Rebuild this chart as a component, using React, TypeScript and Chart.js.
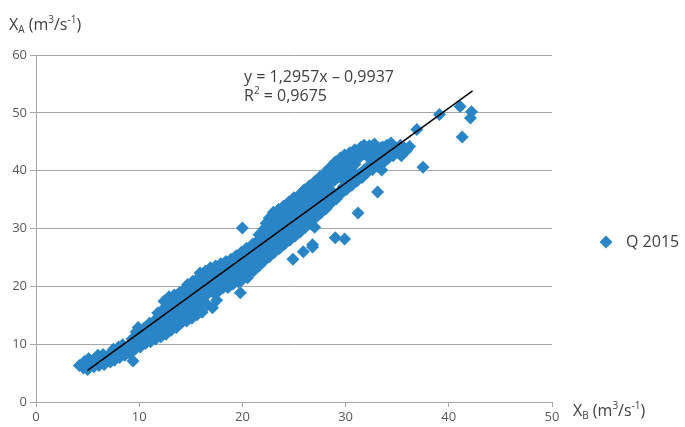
import React, { useEffect, useRef } from "react";
import { Chart, registerables } from "chart.js";

Chart.register(...registerables);

const seriesLabel = "Q 2015";
const xTicks = [0, 10, 20, 30, 40, 50];
const yTicks = [0, 10, 20, 30, 40, 50, 60];
const slope = 1.2957;
const intercept = -0.9937;
const equationText = "y = 1,2957x – 0,9937";
const rSquaredText = " = 0,9675";
const trendX = [5.0, 42.3];

const q2015: [number, number][] = [
  [4.2, 6.3], [4.6, 5.9], [4.7, 7.0],
  [5.0, 5.6], [5.2, 6.5], [5.1, 7.5],
  [5.6, 6.1], [5.5, 7.1], [5.8, 7.6],
  [6.1, 6.3], [6.3, 7.2], [6.0, 8.1],
  [6.6, 6.5], [6.8, 7.6], [6.5, 8.2],
  [7.2, 6.9], [7.0, 7.8], [7.3, 8.6],
  [7.6, 7.2], [7.8, 8.3], [7.5, 9.1],
  [8.1, 7.7], [8.3, 8.5], [8.0, 9.5],
  [8.6, 8.1], [8.8, 8.8], [8.4, 9.9],
  [9.1, 8.4], [9.0, 9.4], [9.2, 10.1],
  [9.4, 7.1], [9.6, 9.1], [9.3, 10.9], [9.7, 12.1],
  [10.1, 9.5], [10.0, 10.7], [10.2, 11.5], [9.9, 12.9],
  [10.6, 10.1], [10.4, 11.1], [10.7, 12.2], [10.5, 12.8],
  [11.1, 10.4], [10.9, 11.4], [11.2, 12.5], [11.0, 13.6],
  [11.6, 10.9], [11.4, 11.8], [11.7, 13.1], [11.5, 14.1], [11.8, 15.4],
  [12.1, 11.3], [11.9, 12.4], [12.2, 13.5], [12.0, 14.5], [12.3, 16.0], [12.4, 17.4],
  [12.6, 11.7], [12.4, 12.9], [12.7, 14.0], [12.5, 15.3], [12.8, 16.4], [12.9, 18.2],
  [13.1, 12.4], [12.9, 13.4], [13.2, 14.7], [13.0, 15.7], [13.3, 17.0], [13.4, 18.5],
  [13.6, 12.9], [13.4, 14.2], [13.7, 15.1], [13.5, 16.5], [13.8, 17.5], [13.9, 18.9],
  [14.1, 13.7], [13.9, 14.9], [14.2, 15.9], [14.0, 17.2], [14.3, 18.1], [14.4, 19.6],
  [14.6, 14.0], [14.4, 15.4], [14.7, 16.6], [14.5, 17.8], [14.8, 18.8], [14.7, 20.3],
  [15.1, 14.5], [14.9, 15.9], [15.2, 17.1], [15.0, 18.4], [15.3, 19.4], [15.2, 20.9],
  [15.6, 15.1], [15.4, 16.4], [15.7, 17.5], [15.5, 18.8], [15.8, 20.2], [15.6, 21.2], [15.9, 22.3],
  [16.1, 15.5], [15.9, 16.7], [16.2, 18.2], [16.0, 19.3], [16.3, 20.7], [16.1, 21.9], [16.4, 22.6],
  [16.6, 16.8], [16.4, 18.3], [16.7, 19.5], [16.5, 20.8], [16.8, 22.2], [16.9, 23.2],
  [17.1, 16.3], [17.5, 17.6], [17.2, 18.9], [17.0, 20.0], [17.3, 21.5], [17.1, 22.5], [17.4, 23.5],
  [17.7, 19.2], [17.5, 20.7], [17.8, 21.8], [17.6, 23.1], [17.9, 23.9],
  [18.1, 19.7], [18.3, 20.8], [18.0, 22.3], [18.2, 23.3], [18.4, 24.3],
  [18.6, 19.8], [18.8, 21.3], [18.5, 22.4], [18.7, 23.8], [18.9, 24.7],
  [19.1, 20.4], [19.3, 21.5], [19.0, 23.0], [19.2, 24.0], [19.4, 25.3],
  [19.8, 18.9], [19.6, 20.8], [19.8, 22.3], [19.5, 23.4], [19.7, 24.8], [19.9, 25.9],
  [19.9, 21.0], [20.1, 21.9], [20.3, 23.1], [20.0, 24.3], [20.2, 25.3], [20.4, 26.6], [20.0, 30.1],
  [20.5, 21.5], [20.7, 22.4], [20.9, 23.8], [20.6, 24.8], [20.8, 26.2], [21.0, 27.3],
  [21.1, 22.7], [21.3, 23.8], [21.0, 25.2], [21.2, 26.3], [21.4, 27.7], [21.6, 28.9],
  [21.6, 23.5], [21.8, 24.6], [21.5, 26.1], [21.7, 27.2], [21.9, 28.6], [22.1, 29.9],
  [22.1, 24.4], [22.3, 25.5], [22.0, 26.8], [22.2, 28.3], [22.4, 29.4], [22.3, 30.9], [22.6, 31.8],
  [22.6, 25.1], [22.8, 26.2], [22.5, 27.7], [22.7, 28.8], [22.9, 30.3], [22.8, 31.5], [23.0, 32.8],
  [23.1, 25.9], [23.3, 27.0], [23.0, 28.5], [23.2, 29.6], [23.4, 31.1], [23.3, 32.3], [23.5, 33.3],
  [23.6, 26.6], [23.8, 27.9], [23.5, 29.0], [23.7, 30.5], [23.9, 31.6], [23.8, 33.0], [24.0, 33.9],
  [24.1, 27.3], [24.3, 28.4], [24.0, 29.9], [24.2, 31.0], [24.4, 32.5], [24.3, 33.7], [24.5, 34.6],
  [24.6, 28.0], [24.8, 29.3], [24.5, 30.4], [24.7, 31.9], [24.9, 33.0], [24.8, 34.4], [25.0, 35.3],
  [24.9, 24.7], [25.1, 28.7], [25.3, 29.8], [25.0, 31.3], [25.2, 32.4], [25.4, 33.9], [25.3, 35.1], [25.5, 35.8],
  [25.6, 29.4], [25.8, 30.5], [25.5, 32.0], [25.7, 33.1], [25.9, 34.6], [25.8, 35.8], [26.0, 36.7],
  [25.9, 26.0], [26.1, 30.2], [26.3, 31.3], [26.0, 32.8], [26.2, 33.9], [26.4, 35.4], [26.3, 36.4], [26.5, 37.4],
  [26.8, 26.8], [26.8, 27.2], [26.6, 30.8], [26.8, 32.3], [26.5, 33.4], [26.7, 34.9], [26.9, 36.0], [26.8, 37.3], [27.0, 38.1],
  [27.0, 30.2], [27.1, 31.9], [27.3, 33.0], [27.0, 34.5], [27.2, 35.6], [27.4, 37.1], [27.3, 38.2], [27.5, 38.9],
  [27.6, 32.7], [27.8, 33.8], [27.5, 35.3], [27.7, 36.4], [27.9, 37.9], [27.8, 38.8], [28.0, 39.7],
  [28.1, 33.4], [28.3, 34.9], [28.0, 36.0], [28.2, 37.5], [28.4, 38.8], [28.3, 40.0], [28.5, 40.6],
  [28.6, 34.4], [28.8, 35.4], [28.5, 36.7], [28.9, 38.3], [28.7, 39.7], [28.9, 40.8], [29.0, 41.5],
  [29.0, 28.4], [29.9, 28.2], [29.1, 35.1], [29.3, 36.2], [29.2, 38.8], [29.4, 40.1], [29.3, 41.2], [29.5, 42.2],
  [29.6, 36.1], [29.8, 37.3], [29.7, 38.5], [29.9, 39.8], [29.8, 41.1], [30.0, 42.0], [29.9, 42.7],
  [30.1, 36.8], [30.3, 37.8], [30.2, 39.3], [30.4, 40.3], [30.3, 41.6], [30.5, 42.3], [30.4, 43.1],
  [30.6, 37.5], [30.8, 38.5], [30.7, 39.8], [30.9, 41.1], [30.8, 42.2], [31.0, 42.9], [30.9, 43.6],
  [31.1, 38.2], [31.3, 39.4], [31.2, 32.7], [31.4, 42.4], [31.2, 43.5], [31.5, 44.1],
  [31.6, 38.8], [31.8, 40.1], [31.7, 42.9], [31.9, 43.6], [31.8, 44.4],
  [32.1, 39.7], [32.3, 40.9], [32.2, 42.3], [32.4, 43.4], [32.3, 44.3],
  [32.6, 40.2], [32.8, 41.5], [32.7, 42.7], [32.9, 43.7], [32.8, 44.6],
  [33.1, 40.7], [33.1, 36.3], [33.3, 41.9], [33.2, 42.8], [33.4, 43.9],
  [33.5, 40.1], [33.7, 41.5], [33.8, 42.9], [33.6, 44.1],
  [34.1, 42.1], [34.3, 43.2], [34.0, 44.4],
  [34.4, 44.8], [34.6, 42.6], [34.8, 43.6],
  [35.1, 43.1], [35.3, 44.4], [35.4, 42.6],
  [35.7, 43.9], [35.9, 43.5], [36.2, 44.2],
  [36.9, 47.1], [37.5, 40.6], [39.1, 49.7], [41.1, 51.1], [42.2, 50.2], [42.1, 49.1], [41.3, 45.8],
];

const BLUE = "#2a85c7";
const GRID = "#a6a6a6";
const TEXT = "#404040";
const FONT = "'Open Sans', 'Noto Sans', sans-serif";

type Run = { t: string; size: number; dy: number };

function drawRuns(ctx: CanvasRenderingContext2D, x: number, baseline: number, runs: Run[]) {
  let cx = x;
  for (const r of runs) {
    ctx.font = `${r.size}px ${FONT}`;
    ctx.fillText(r.t, cx, baseline + r.dy);
    cx += ctx.measureText(r.t).width;
  }
}

function unitRuns(sub: string): Run[] {
  return [
    { t: "X", size: 16, dy: 0 },
    { t: sub, size: 10, dy: 3 },
    { t: " (m", size: 16, dy: 0 },
    { t: "3", size: 10, dy: -7 },
    { t: "/s", size: 16, dy: 0 },
    { t: "-1", size: 10, dy: -7 },
    { t: ")", size: 16, dy: 0 },
  ];
}

const overlay = {
  id: "overlay",
  afterDraw(chart: any) {
    const ctx: CanvasRenderingContext2D = chart.ctx;
    ctx.save();
    ctx.fillStyle = TEXT;
    ctx.textAlign = "left";
    ctx.textBaseline = "alphabetic";
    drawRuns(ctx, 9, 30, unitRuns("A"));
    drawRuns(ctx, 573, 416, unitRuns("B"));
    drawRuns(ctx, 244, 82, [{ t: equationText, size: 16, dy: 0 }]);
    drawRuns(ctx, 244, 101, [
      { t: "R", size: 16, dy: 0 },
      { t: "2", size: 10, dy: -7 },
      { t: rSquaredText, size: 16, dy: 0 },
    ]);
    const lx = 606, ly = 242, r = 6.5;
    ctx.fillStyle = BLUE;
    ctx.beginPath();
    ctx.moveTo(lx, ly - r);
    ctx.lineTo(lx + r, ly);
    ctx.lineTo(lx, ly + r);
    ctx.lineTo(lx - r, ly);
    ctx.closePath();
    ctx.fill();
    ctx.fillStyle = TEXT;
    ctx.font = `16px ${FONT}`;
    ctx.textBaseline = "middle";
    ctx.fillText(seriesLabel, 626, ly);
    ctx.restore();
  },
};

export default function App() {
  const ref = useRef<HTMLCanvasElement | null>(null);
  useEffect(() => {
    if (!ref.current) return;
    const chart = new Chart(ref.current, {
      type: "scatter",
      data: {
        datasets: [
          {
            type: "line",
            label: "trend",
            data: trendX.map((x) => ({ x, y: slope * x + intercept })),
            borderColor: "#000000",
            borderWidth: 1.5,
            pointRadius: 0,
            fill: false,
            order: 0,
          } as any,
          {
            type: "scatter",
            label: seriesLabel,
            data: q2015.map(([x, y]) => ({ x, y })),
            backgroundColor: BLUE,
            borderWidth: 0,
            pointStyle: "rectRot",
            pointRadius: 6.5,
            pointHoverRadius: 6.5,
            order: 1,
          } as any,
        ],
      },
      options: {
        responsive: false,
        animation: false,
        devicePixelRatio: 1,
        layout: { padding: { top: 55, right: 133, left: 0, bottom: 0 } },
        plugins: { legend: { display: false }, tooltip: { enabled: false } },
        scales: {
          x: {
            type: "linear",
            min: 0,
            max: 50,
            afterFit: (s: any) => { s.height = 25; },
            afterBuildTicks: (s: any) => { s.ticks = xTicks.map((v) => ({ value: v })); },
            ticks: { font: { family: FONT, size: 13 }, color: "#595959", padding: 2 },
            grid: { drawOnChartArea: false, drawTicks: true, tickLength: 5, color: GRID },
            border: { color: GRID, width: 1 },
          },
          y: {
            type: "linear",
            min: 0,
            max: 60,
            afterFit: (s: any) => { s.width = 36; },
            afterBuildTicks: (s: any) => { s.ticks = yTicks.map((v) => ({ value: v })); },
            ticks: { font: { family: FONT, size: 13 }, color: "#595959", padding: 3 },
            grid: { drawTicks: true, tickLength: 6, color: GRID },
            border: { color: GRID, width: 1 },
          },
        },
      },
      plugins: [overlay],
    });
    return () => chart.destroy();
  }, []);
  return (
    <div style={{ position: "absolute", left: 0, top: 0, width: 685, height: 427, background: "#fff" }}>
      <canvas ref={ref} width={685} height={427} style={{ display: "block" }} />
    </div>
  );
}
